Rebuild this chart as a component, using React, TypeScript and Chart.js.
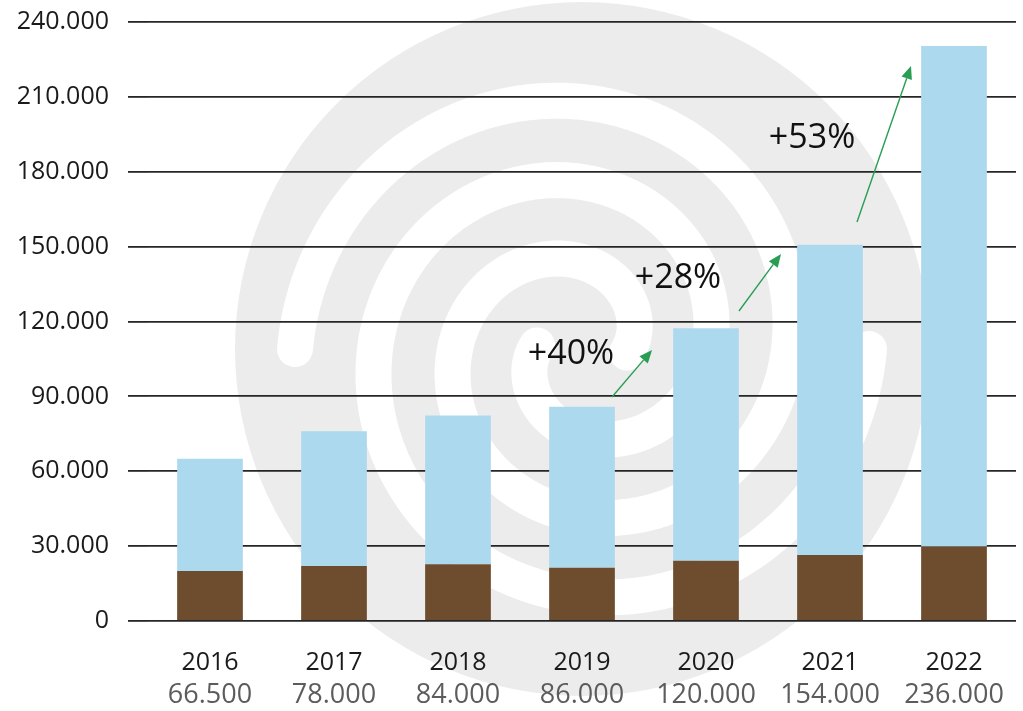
import React, { useEffect, useRef } from 'react';
import { Chart, registerables } from 'chart.js';

Chart.register(...registerables);

const FONT = '"Open Sans", "Noto Sans", "DejaVu Sans", sans-serif';

// ---- data ----
const years = ['2016', '2017', '2018', '2019', '2020', '2021', '2022'];
const totalLabels = ['66.500', '78.000', '84.000', '86.000', '120.000', '154.000', '236.000'];
const baseValues = [20000, 22000, 22700, 21300, 24100, 26400, 29800];
const growthValues = [45000, 54000, 59600, 64500, 93200, 124400, 200600];
const yMin = 0;
const yMax = 240000;
const yStep = 30000;

// growth annotations, anchored in data coordinates (category index, value)
const growthTexts = ['+40%', '+28%', '+53%'];
const growthTextAt = [
  [2.911, 106980],
  [3.774, 137430],
  [4.855, 193520],
];
const arrowFrom = [
  [3.242, 89750],
  [4.266, 124200],
  [5.218, 159870],
];
const arrowTo = [
  [3.565, 108580],
  [4.605, 147050],
  [5.653, 222370],
];

const fmt = (v: number) => {
  if (v === 0) return '0';
  return Math.round(v / 1000) + '.000';
};

const spiralPlugin = {
  id: 'spiralWatermark',
  beforeDraw(chart: any) {
    const ctx = chart.ctx as CanvasRenderingContext2D;
    ctx.save();
    const cx = 582;
    const cy = 349;
    const R = 347;
    ctx.fillStyle = '#ececec';
    ctx.beginPath();
    ctx.arc(cx, cy, R, 0, Math.PI * 2);
    ctx.fill();
    ctx.strokeStyle = '#ffffff';
    ctx.lineWidth = 36;
    ctx.lineCap = 'round';
    ctx.lineJoin = 'round';
    const pitch = 160;
    const rEnd = 287;
    const rStart = 45;
    const span = ((rEnd - rStart) / pitch) * 2 * Math.PI;
    for (const endAngle of [Math.PI, 0]) {
      ctx.beginPath();
      const n = 400;
      for (let i = 0; i <= n; i++) {
        const t = endAngle + span - (span * i) / n;
        const r = rEnd - ((t - endAngle) * pitch) / (2 * Math.PI);
        const x = cx + r * Math.cos(t);
        const y = cy + r * Math.sin(t);
        if (i === 0) ctx.moveTo(x, y);
        else ctx.lineTo(x, y);
      }
      ctx.stroke();
    }
    ctx.restore();
  },
};

const annotationPlugin = {
  id: 'growthAnnotations',
  afterDatasetsDraw(chart: any) {
    const ctx = chart.ctx as CanvasRenderingContext2D;
    const xs = chart.scales.x;
    const ys = chart.scales.y;
    ctx.save();
    const green = '#2a9d55';
    for (let i = 0; i < arrowFrom.length; i++) {
      const x1 = xs.getPixelForValue(arrowFrom[i][0]);
      const y1 = ys.getPixelForValue(arrowFrom[i][1]);
      const x2 = xs.getPixelForValue(arrowTo[i][0]);
      const y2 = ys.getPixelForValue(arrowTo[i][1]);
      const ang = Math.atan2(y2 - y1, x2 - x1);
      const headLen = 13;
      const headW = 5.5;
      const bx = x2 - headLen * Math.cos(ang);
      const by = y2 - headLen * Math.sin(ang);
      ctx.strokeStyle = green;
      ctx.lineWidth = 1.4;
      ctx.beginPath();
      ctx.moveTo(x1, y1);
      ctx.lineTo(bx, by);
      ctx.stroke();
      ctx.fillStyle = green;
      ctx.beginPath();
      ctx.moveTo(x2, y2);
      ctx.lineTo(bx + headW * Math.sin(ang), by - headW * Math.cos(ang));
      ctx.lineTo(bx - headW * Math.sin(ang), by + headW * Math.cos(ang));
      ctx.closePath();
      ctx.fill();
    }
    ctx.fillStyle = '#111111';
    ctx.font = `34px ${FONT}`;
    ctx.textAlign = 'center';
    ctx.textBaseline = 'middle';
    for (let i = 0; i < growthTexts.length; i++) {
      const x = xs.getPixelForValue(growthTextAt[i][0]);
      const y = ys.getPixelForValue(growthTextAt[i][1]);
      ctx.fillText(growthTexts[i], x, y);
    }
    ctx.restore();
  },
};

export default function App() {
  const canvasRef = useRef<HTMLCanvasElement | null>(null);

  useEffect(() => {
    document.body.style.margin = '0';
    const canvas = canvasRef.current;
    if (!canvas) return;
    const chart = new Chart(canvas, {
      type: 'bar',
      data: {
        labels: years,
        datasets: [
          {
            label: 'Basis',
            data: baseValues,
            backgroundColor: '#6e4c2e',
            barPercentage: 0.53,
            categoryPercentage: 1,
            xAxisID: 'x',
            yAxisID: 'y',
          },
          {
            label: 'Zuwachs',
            data: growthValues,
            backgroundColor: '#add9ee',
            barPercentage: 0.53,
            categoryPercentage: 1,
            xAxisID: 'x',
            yAxisID: 'y',
          },
        ],
      },
      options: {
        animation: false,
        responsive: false,
        layout: { padding: { top: 22, right: 7, left: 0, bottom: 0 } },
        plugins: {
          legend: { display: false },
          tooltip: { enabled: false },
        },
        scales: {
          x: {
            type: 'category',
            stacked: true,
            offset: true,
            grid: { display: false, drawTicks: false },
            border: { display: false },
            ticks: {
              font: { family: FONT, size: 25 },
              color: '#1a1a1a',
              padding: 27,
              maxRotation: 0,
              autoSkip: false,
            },
            afterFit: (s: any) => {
              s.height = 57;
              s.paddingLeft = 0;
              s.paddingRight = 0;
            },
          },
          x2: {
            type: 'category',
            position: 'bottom',
            offset: true,
            labels: years,
            grid: { display: false, drawTicks: false },
            border: { display: false },
            ticks: {
              callback: (_v: any, i: number) => totalLabels[i],
              font: { family: FONT, size: 27 },
              color: '#5c5c5c',
              padding: 1,
              maxRotation: 0,
              autoSkip: false,
            },
            afterFit: (s: any) => {
              s.height = 33;
              s.paddingLeft = 0;
              s.paddingRight = 0;
            },
          },
          y: {
            stacked: true,
            min: yMin,
            max: yMax,
            ticks: {
              stepSize: yStep,
              callback: (v: any) => fmt(Number(v)),
              font: { family: FONT, size: 25 },
              color: '#1a1a1a',
              padding: 19,
            },
            grid: { color: '#262626', lineWidth: 1.8, tickLength: 20, drawTicks: true },
            border: { display: false },
            afterFit: (s: any) => {
              s.width = 148;
              s.paddingTop = 0;
              s.paddingBottom = 0;
            },
          },
        },
      } as any,
      plugins: [spiralPlugin, annotationPlugin],
    });
    return () => chart.destroy();
  }, []);

  return (
    <div style={{ width: 1023, height: 711, position: 'relative' }}>
      <canvas ref={canvasRef} width={1023} height={711} style={{ display: 'block' }} />
    </div>
  );
}
